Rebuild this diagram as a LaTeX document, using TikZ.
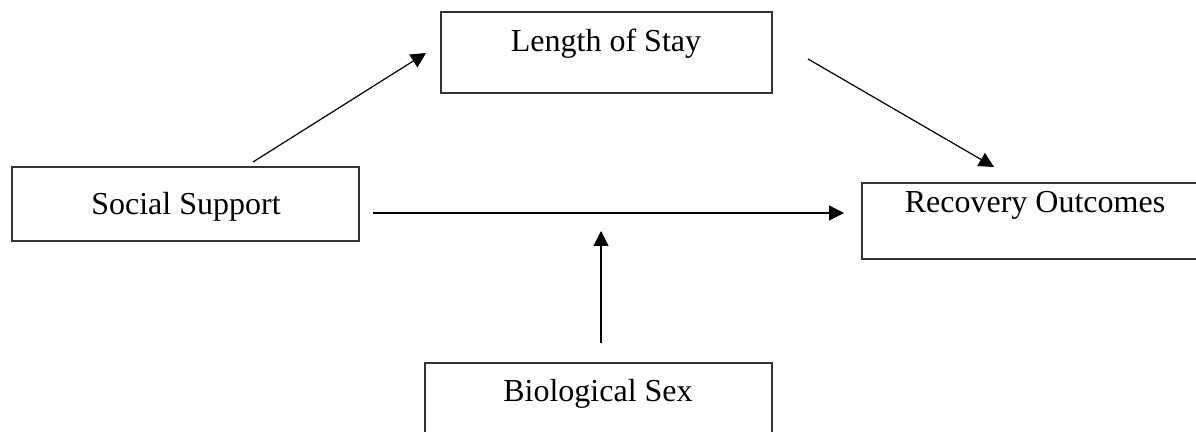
\documentclass[tikz,border=0pt]{standalone}
\usepackage{fontspec}
\setmainfont{Liberation Serif}
\usetikzlibrary{arrows.meta}
\begin{document}
\begin{tikzpicture}[x=0.5pt,y=-0.5pt,
  box/.style={draw=black!80,line width=0.55pt,rectangle,inner sep=0pt},
  lbl/.style={anchor=base,inner sep=0pt,font=\fontsize{16}{19}\selectfont},
  arr/.style={line width=0.6pt,-{Triangle[length=7.5pt,width=7.5pt]}}]
\useasboundingbox (0,0) rectangle (1196,432);
\clip (0,0) rectangle (1196,432);
% boxes
\node[box,minimum width=165.5pt,minimum height=40.5pt] (los) at (606.5,52.5) {};
\node[box,minimum width=173.5pt,minimum height=37pt] (ss) at (185.5,204) {};
\node[box,minimum width=173pt,minimum height=38pt] (ro) at (1035,221) {};
\node[box,minimum width=173.5pt,minimum height=38pt] (bs) at (598.5,401) {};
% texts
\node[lbl] (tlos) at (606,52) {Length of Stay};
\node[lbl] (tss) at (186,215) {Social Support};
\node[lbl] (tro) at (1035,213) {Recovery Outcomes};
\node[lbl] (tbs) at (598,402) {Biological Sex};
% connector ends
\coordinate (a1s) at (253,162);
\coordinate (a1e) at (426,53);
\coordinate (a2s) at (808,59);
\coordinate (a2e) at (994,167);
\coordinate (a3s) at (373,213);
\coordinate (a3e) at (844,213);
\coordinate (a4s) at (601,343);
\coordinate (a4e) at (601,231);
\draw[arr] (a1s) -- (a1e);
\draw[arr] (a2s) -- (a2e);
\draw[arr] (a3s) -- (a3e);
\draw[arr] (a4s) -- (a4e);
\end{tikzpicture}
\end{document}
